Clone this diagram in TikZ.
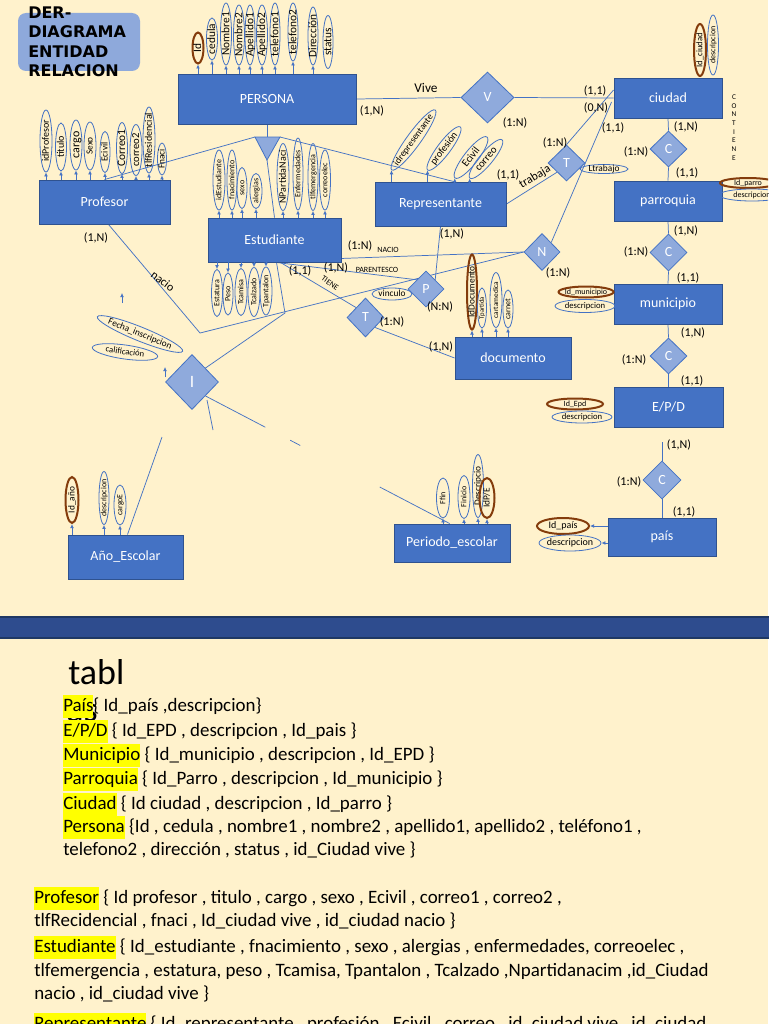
\documentclass[tikz,border=0pt]{standalone}
\usepackage{fontspec}
\setmainfont{Carlito}
\newfontfamily\titlefont{DejaVu Sans}
\usetikzlibrary{shapes.geometric,arrows.meta,calc}
\pgfdeclarelayer{bgl}
\pgfdeclarelayer{lnl}
\pgfsetlayers{bgl,lnl,main}
\definecolor{bgc}{HTML}{FFF2CC}
\definecolor{entfill}{HTML}{4472C4}
\definecolor{entdraw}{HTML}{2F528F}
\definecolor{diaf}{HTML}{8FAADC}
\definecolor{keyc}{HTML}{843C0C}
\definecolor{titlebox}{HTML}{8EA9DB}
\definecolor{bandc}{HTML}{2E4C8E}
\definecolor{bandl}{HTML}{1F3864}
\definecolor{hly}{HTML}{FFFF00}
\newcommand\fsz[1]{\fontsize{#1}{#1}\selectfont}
\newcommand\zt[1]{\makebox[0pt]{\smash{\raisebox{-0.6ex}{#1}}}}
\newcommand\hl[1]{{\setlength\fboxsep{0pt}\colorbox{hly}{\strut #1}}}
\newcommand\ent[6]{\node[ent, minimum width={#4*0.75pt}, minimum height={#5*0.75pt}] (#1) at (#2,#3) {#6};}
\newcommand\dmd[6]{\node[dia, minimum width={#4*1.5pt}, minimum height={#5*1.5pt}] (#1) at (#2,#3) {#6};}
\newcommand\ael[8]{\node[#1, rotate=#7, minimum width={#5*0.75pt}, minimum height={#6*0.75pt}] (#2) at (#3,#4) {\zt{#8}};}
\newcommand\lab[4]{\node[lab] (#1) at (#2,#3) {#4};}
\begin{document}
\begin{tikzpicture}[x=0.75pt,y=-0.75pt,
 ent/.style={draw=entdraw, fill=entfill, text=white, font=\fsz{10.5}, inner sep=0pt, line width=0.7pt},
 dia/.style={diamond, draw=entfill, fill=diaf, text=white, font=\fsz{10.5}, inner sep=0pt, line width=0.6pt},
 attr/.style={ellipse, draw=entfill, line width=0.6pt, inner sep=0pt, text=black},
 key/.style={ellipse, draw=keyc, line width=1.5pt, inner sep=0pt, text=black},
 conn/.style={draw=entfill, line width=0.55pt},
 arr/.style={draw=entfill, line width=0.55pt, -{Latex[length=3pt,width=2.8pt]}},
 lab/.style={font=\fsz{9}, inner sep=0pt, text=black},
 sml/.style={font=\fsz{6}, inner sep=0pt, text=black},
 body/.style={font=\fontsize{14.2}{17.2}\selectfont, anchor=base west, inner sep=0pt, text=black}]
\useasboundingbox (0,0) rectangle (768,1024);
\clip (0,0) rectangle (768,1024);
\begin{pgfonlayer}{bgl}
\fill[bgc] (0,0) rectangle (768,1024);
\fill[titlebox, rounded corners=6pt] (18,13) rectangle (140,71);
\fill[bandc, draw=bandl, line width=0.8pt] (-2,617) rectangle (770,638);
\end{pgfonlayer}

% title
\node[font=\titlefont\bfseries\fsz{12}, anchor=base west, inner sep=0pt] (t1) at (28,19) {DER-};
\node[font=\titlefont\bfseries\fsz{12}, anchor=base west, inner sep=0pt] (t2) at (28,38) {DIAGRAMA};
\node[font=\titlefont\bfseries\fsz{12}, anchor=base west, inner sep=0pt] (t3) at (28,57.5) {ENTIDAD};
\node[font=\titlefont\bfseries\fsz{12}, anchor=base west, inner sep=0pt] (t4) at (28,77) {RELACION};

% entities
\ent{PERSONA}{267}{99}{178}{50}{PERSONA}
\ent{Profesor}{104.5}{202}{131}{44}{Profesor}
\ent{Estudiante}{274.5}{240}{133}{44}{Estudiante}
\ent{Representante}{440.5}{204}{131}{44}{Representante}
\ent{ciudad}{668}{98}{108}{40}{ciudad}
\ent{parroquia}{668}{201}{108}{40}{parroquia}
\ent{municipio}{668}{304}{108}{40}{municipio}
\ent{EPD}{668.5}{407}{109}{40}{E/P/D}
\ent{documento}{513}{358}{116}{42}{documento}
\ent{Ano}{125.5}{557}{115}{44}{Año\_Escolar}
\ent{Periodo}{452}{543}{116}{38}{Periodo\_escolar}
\ent{pais}{662}{537}{108}{38}{país}

% relationships
\dmd{V}{487.5}{97.5}{26.5}{25.5}{V}
\dmd{C1}{668.5}{149}{18.5}{18}{C}
\dmd{T1}{566.5}{163}{18.5}{18}{T}
\dmd{N}{542}{252}{18}{18.5}{N}
\dmd{C2}{668.5}{252.5}{18.5}{18.5}{C}
\dmd{C3}{668.5}{356}{18.5}{18}{C}
\dmd{P}{426}{289}{18}{18}{P}
\dmd{T2}{365.5}{317.5}{18.5}{19.5}{T}
\dmd{I}{192}{382}{26.5}{27.5}{\fsz{13}I}
\dmd{C4}{662}{480}{19}{19}{C}

% ISA triangle
\coordinate (isaL) at (255,137);
\coordinate (isaR) at (280,137);
\coordinate (isaB) at (267,160);
\coordinate (isaT) at (267,137);
\filldraw[fill=diaf, draw=entfill, line width=0.6pt] (isaL) -- (isaR) -- (isaB) -- cycle;

% free-end coordinates
\coordinate (repTop) at ($(Representante.north west)!0.6!(Representante.north east)$);
\coordinate (nk) at (200,333);
\coordinate (ek) at (285,313);
\coordinate (perTop) at ($(Periodo.north west)!0.48!(Periodo.north east)$);
\coordinate (istubA) at (207,400);
\coordinate (istubB) at (213,430);
\coordinate (anoEnd) at (162,437);
\coordinate (c4top) at (662,442);
\coordinate (sa1) at (122,303);
\coordinate (sa1t) at (122,293);
\coordinate (sa2) at (165,377);
\coordinate (sa2t) at (165,367);

\begin{pgfonlayer}{lnl}
\draw[conn] (PERSONA.east) -- (V.west);
\draw[conn] (V.east) -- (ciudad.west);
\draw[conn] (PERSONA.south) -- (isaT);
\draw[conn] (isaB) -- (Estudiante.north);
\draw[conn] (isaL) -- (Profesor.north);
\draw[conn] (isaR) -- (repTop);
\draw[conn] ($(ciudad.west)+(0,-8)$) -- (T1.north);
\draw[conn] ($(ciudad.west)+(-2,4)$) -- (N.north east);
\draw[conn] (Representante.east) -- (T1.south west);
\draw[conn] (ciudad.south) -- (C1.north);
\draw[conn] (C1.south) -- (parroquia.north);
\draw[conn] (parroquia.south) -- (C2.north);
\draw[conn] (C2.south) -- (municipio.north);
\draw[conn] (municipio.south) -- (C3.north);
\draw[conn] (C3.south) -- (EPD.north);
\draw[conn] (c4top) -- (C4.north);
\draw[conn] (C4.south) -- (pais.north);
\draw[conn] ($(Estudiante.south east)+(0,-4)$) -- (N.west);
\draw[conn] ($(Estudiante.south)+(2,0)$) -- (P.north west);
\draw[conn] ($(Estudiante.south)+(6,0)$) -- (T2.north west);
\draw[conn] (T2.south east) -- (documento.west);
\draw[conn] (P.north east) -- (Representante.south);
\draw[conn] ($(Profesor.south)+(4,0)$) -- (nk) -- (N.west);
\draw[conn] ($(Estudiante.south)+(2,0)$) -- (ek) -- (I.north east);
\draw[conn] (I.south east) -- ($(I.south east)!0.245!(perTop)$);
\draw[conn] ($(I.south east)!0.347!(perTop)$) -- ($(I.south east)!0.388!(perTop)$);
\draw[conn] ($(I.south east)!0.714!(perTop)$) -- (perTop);
\draw[conn] (istubA) -- (istubB);
\draw[conn] ($(Ano.north)+(2,0)$) -- (anoEnd);
\draw[arr] (sa1) -- (sa1t);
\draw[arr] (sa2) -- (sa2t);
\end{pgfonlayer}

% PERSONA attributes
\ael{key,font=\fsz{8.5}}{pId}{198}{48}{31}{11}{90}{Id}
\ael{attr,font=\fsz{8.5}}{pCed}{212}{39}{42}{11}{90}{cedula}
\ael{attr,font=\fsz{8.5}}{pN1}{226}{34}{62}{11}{90}{Nombre1}
\ael{attr,font=\fsz{8.5}}{pN2}{239}{35}{60}{11}{90}{Nombre2}
\ael{attr,font=\fsz{8.5}}{pA1}{250}{35}{60}{10}{90}{Apellido1}
\ael{attr,font=\fsz{8.5}}{pA2}{262}{35}{60}{11}{90}{Apellido2}
\ael{attr,font=\fsz{8.5}}{pT1}{275}{34}{62}{10}{90}{telefono1}
\ael{attr,font=\fsz{8.5}}{pT2}{293}{32}{58}{10}{90}{telefono2}
\ael{attr,font=\fsz{8.5}}{pDir}{313}{36}{58}{10}{90}{Dirección}
\ael{attr,font=\fsz{8.5}}{pSt}{328}{42}{53}{10}{90}{status}
\foreach \nm in {pId,pCed,pN1,pN2,pA1,pA2,pT1,pT2,pDir}
  \draw[arr] (\nm.west |- PERSONA.north) -- (\nm.west);

% Profesor attributes
\ael{attr,font=\fsz{7.5}}{fId}{46}{141}{62}{12}{90}{idProfesor}
\ael{attr,font=\fsz{7.5}}{fTit}{61}{147}{48}{11}{90}{titulo}
\ael{attr,font=\fsz{9}}{fCar}{76}{145}{50}{12}{90}{cargo}
\ael{attr,font=\fsz{7}}{fSex}{90}{146}{48}{12}{90}{Sexo}
\ael{attr,font=\fsz{7}}{fEc}{105}{152}{41}{10}{90}{Ecivil}
\ael{attr,font=\fsz{8.5}}{fC1}{122}{148}{51}{11}{90}{Correo1}
\ael{attr,font=\fsz{8}}{fC2}{136}{150}{51}{12}{90}{correo2}
\ael{attr,font=\fsz{7.5}}{fTlf}{149}{140}{66}{12}{90}{tlfResidencial}
\ael{attr,font=\fsz{7}}{fFn}{162}{159}{32}{9}{90}{Fnaci}
\foreach \nm in {fId,fTit,fCar,fSex,fEc,fC1,fC2,fTlf,fFn}
  \draw[arr] (\nm.west |- Profesor.north) -- (\nm.west);

% Estudiante attributes (top)
\ael{attr,font=\fsz{6}}{eId}{219}{180}{60}{12}{90}{idEstudiante}
\ael{attr,font=\fsz{6}}{eFn}{232}{180}{60}{10}{90}{fnacimiento}
\ael{attr,font=\fsz{6}}{eSx}{242}{188}{41}{10}{90}{sexo}
\ael{attr,font=\fsz{6}}{eAl}{256}{191}{35}{12}{90}{alergias}
\ael{attr,font=\fsz{7.5}}{eNP}{283}{177}{67}{12}{90}{NPartidaNaci}
\ael{attr,font=\fsz{6}}{eEn}{298}{174}{72}{10}{90}{Enfermedades}
\ael{attr,font=\fsz{6}}{eTe}{313}{177}{67}{10}{90}{tlfemergencia}
\ael{attr,font=\fsz{6}}{eCo}{325}{180}{60}{11}{90}{correoelec}
\foreach \nm in {eId,eFn,eSx,eAl,eNP,eEn,eTe,eCo}
  \draw[arr] (\nm.west |- Estudiante.north) -- (\nm.west);

% Estudiante attributes (bottom)
\ael{attr,font=\fsz{6}}{eEs}{217}{293}{47}{11}{90}{Estatura}
\ael{attr,font=\fsz{6}}{ePe}{228}{294}{42}{10}{90}{Peso}
\ael{attr,font=\fsz{6}}{eTc}{241}{292}{47}{12}{90}{Tcamisa}
\ael{attr,font=\fsz{6}}{eTz}{254}{292}{49}{12}{90}{Tcalzado}
\ael{attr,font=\fsz{6}}{eTp}{266}{291}{48}{12}{90}{Tpantalon}
\foreach \nm in {eEs,ePe,eTc,eTz,eTp}
  \draw[arr] (\nm.east |- Estudiante.south) -- (\nm.east);

% Representante attributes
\ael{attr,font=\fsz{7}}{rId}{413.5}{140}{74}{14}{54}{idrepresentante}
\ael{attr,font=\fsz{7.5}}{rPr}{444}{148.5}{54}{13}{53}{profesión}
\ael{attr,font=\fsz{8}}{rEc}{471}{157.5}{52}{14}{52}{Ecivil}
\ael{attr,font=\fsz{8}}{rCo}{486}{159}{50}{13}{50}{correo}
\foreach \nm in {rId,rPr,rEc,rCo}
  \draw[arr] (\nm.west |- Representante.north) -- (\nm.west);

% ciudad / parroquia / municipio / EPD / pais attributes
\ael{key,font=\fsz{6.5}}{cId}{700}{50}{52}{12}{90}{Id\_ciudad}
\ael{attr,font=\fsz{6}}{cDe}{713}{45}{60}{11}{90}{descripcion}
\ael{key,font=\fsz{6}}{paId}{748}{183}{56}{10}{0}{Id\_parro}
\ael{attr,font=\fsz{6}}{paDe}{752}{195}{66}{12}{0}{descripcion}
\ael{key,font=\fsz{6}}{mId}{586}{292}{55}{11}{0}{Id\_municipio}
\ael{attr,font=\fsz{6.5}}{mDe}{585}{306}{60}{13}{0}{descripcion}
\ael{key,font=\fsz{6}}{dId}{575}{404}{56}{11}{0}{Id\_Epd}
\ael{attr,font=\fsz{6.5}}{dDe}{582}{417}{60}{12}{0}{descripcion}
\ael{key,font=\fsz{7.5}}{yId}{563}{526}{52}{16}{0}{Id\_país}
\ael{attr,font=\fsz{7.5}}{yDe}{570}{543}{62}{16}{0}{descripcion}
\draw[arr] (pais.west |- yId.east) -- (yId.east);
\draw[arr] (pais.west |- yDe.east) -- (yDe.east);

% documento attributes
\ael{key,font=\fsz{7}}{dcId}{472}{292}{75}{10}{90}{IdDocumento}
\ael{attr,font=\fsz{5}}{dcTp}{482}{308}{40}{9}{90}{Tpartida}
\ael{attr,font=\fsz{5.5}}{dcCm}{496}{300}{55}{12}{90}{cartamedica}
\ael{attr,font=\fsz{6}}{dcCa}{508}{309}{38}{10}{90}{carnet}
\foreach \nm in {dcId,dcTp,dcCm,dcCa}
  \draw[arr] (\nm.west |- documento.north) -- (\nm.west);

% Año_Escolar attributes
\ael{key,font=\fsz{7}}{aId}{72}{500}{46}{13}{90}{Id\_año}
\ael{attr,font=\fsz{6}}{aDe}{104}{498}{53}{10}{90}{descripcion}
\ael{attr,font=\fsz{6}}{aCa}{120}{505}{40}{12}{90}{cargoE}
\foreach \nm in {aId,aDe,aCa}
  \draw[arr] (\nm.west |- Ano.north) -- (\nm.west);

% Periodo_escolar attributes
\ael{attr,font=\fsz{6}}{peFf}{443}{498}{40}{13}{90}{Ffin}
\ael{attr,font=\fsz{6}}{peFi}{464}{497}{43}{12}{90}{Finicio}
\ael{attr,font=\fsz{7}}{peDe}{478}{486}{63}{11}{90}{Descripcio}
\ael{key,font=\fsz{7}}{peId}{487}{498}{40}{15}{90}{IdP/E}
\foreach \nm in {peFf,peFi,peDe,peId}
  \draw[arr] (\nm.west |- Periodo.north) -- (\nm.west);

% relationship attributes
\ael{attr,font=\fsz{7}}{vin}{392}{294}{40}{12}{0}{vinculo}
\ael{attr,font=\fsz{7}}{ltr}{604}{169}{48}{9}{0}{Ltrabajo}
\ael{attr,font=\fsz{7}}{fin}{140}{334}{92}{14}{-22}{Fecha\_inscripcion}
\ael{attr,font=\fsz{6.5}}{cal}{125}{352}{66}{14}{-8}{calificación}

% labels
\node[font=\fsz{10}, inner sep=0pt] (lVive) at (426,88) {Vive};
\lab{l1}{372}{111}{(1,N)}
\lab{l2}{595}{91}{(1,1)}
\lab{l3}{596}{108}{(0,N)}
\lab{l4}{515}{123}{(1:N)}
\lab{l5}{613}{128}{(1,1)}
\lab{l6}{686}{127}{(1,N)}
\lab{l7}{636}{152}{(1:N)}
\lab{l8}{687}{173}{(1,1)}
\lab{l9}{555}{143}{(1:N)}
\lab{l10}{508}{175}{(1,1)}
\node[lab, rotate=31] (lTrab) at (535,177) {trabaja};
\lab{l11}{686}{231}{(1,N)}
\lab{l12}{636}{252}{(1:N)}
\lab{l13}{688}{278}{(1,1)}
\lab{l14}{558}{273}{(1:N)}
\lab{l15}{693}{333}{(1,N)}
\lab{l16}{634}{360}{(1:N)}
\lab{l17}{692}{381}{(1,1)}
\lab{l18}{679}{445}{(1,N)}
\lab{l19}{629}{482}{(1:N)}
\lab{l20}{684}{512}{(1,1)}
\lab{l21}{360}{246}{(1:N)}
\node[sml] (lNacio) at (388,250) {NACIO};
\lab{l22}{336}{268}{(1,N)}
\node[sml] (lParen) at (377,270) {PARENTESCO};
\lab{l23}{300}{271}{(1,1)}
\node[sml, rotate=-35] (lTiene) at (330,283) {TIENE};
\lab{l24}{452}{234}{(1,N)}
\lab{l25}{440}{307}{(N:N)}
\lab{l26}{392}{322}{(1:N)}
\lab{l27}{441}{347}{(1,N)}
\lab{l28}{96}{238}{(1,N)}
\node[lab, font=\fsz{9}, rotate=-38] (lnacio) at (163,281) {nacio};
\foreach \ch [count=\k from 0] in {C,O,N,T,I,E,N,E}
  \node[font=\fsz{5.5}, inner sep=0pt] (ct\k) at (734,{97+8.7*\k}) {\ch};

% tables text
\node[font=\fsz{27}, anchor=base west, inner sep=0pt] (tabl) at (68,684) {tabl};
\node[font=\fsz{27}, anchor=base west, inner sep=0pt] (tabas) at (66,721) {as};
\node[body] (b1) at (63,711) {\hl{País}\{ Id\_país ,descripcion\}};
\node[body] (b2) at (63,736) {\hl{E/P/D} \{ Id\_EPD , descripcion , Id\_pais \}};
\node[body] (b3) at (63,760) {\hl{Municipio} \{ Id\_municipio , descripcion , Id\_EPD \}};
\node[body] (b4) at (63,784) {\hl{Parroquia} \{ Id\_Parro , descripcion , Id\_municipio \}};
\node[body] (b5) at (63,809) {\hl{Ciudad} \{ Id ciudad , descripcion , Id\_parro \}};
\node[body] (b6) at (63,832) {\hl{Persona} \{Id , cedula , nombre1 , nombre2 , apellido1, apellido2 , teléfono1 ,};
\node[body] (b7) at (63,855) {telefono2 , dirección , status , id\_Ciudad vive \}};
\node[body] (b8) at (34,903) {\hl{Profesor} \{ Id profesor , titulo , cargo , sexo , Ecivil , correo1 , correo2 ,};
\node[body] (b9) at (34,926) {tlfRecidencial , fnaci , Id\_ciudad vive , id\_ciudad nacio \}};
\node[body] (b10) at (34,952) {\hl{Estudiante} \{ Id\_estudiante , fnacimiento , sexo , alergias , enfermedades, correoelec ,};
\node[body] (b11) at (34,976) {tlfemergencia , estatura, peso , Tcamisa, Tpantalon , Tcalzado ,Npartidanacim ,id\_Ciudad};
\node[body] (b12) at (34,999) {nacio , id\_ciudad vive \}};
\node[body] (b13) at (34,1029) {\hl{Representante} \{ Id\_representante , profesión , Ecivil , correo , id\_ciudad vive , id\_ciudad};
\end{tikzpicture}
\end{document}
